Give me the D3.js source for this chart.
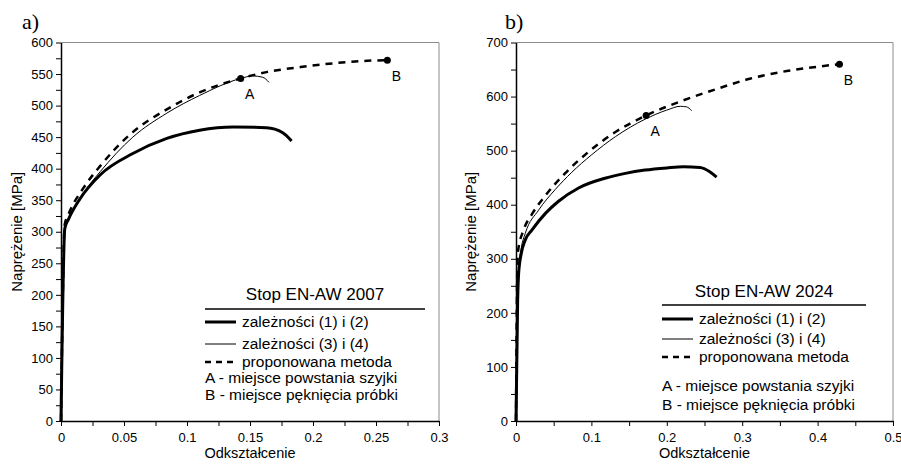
<!DOCTYPE html>
<html lang="pl">
<head>
  <meta charset="UTF-8">
  <title>Stop EN-AW 2007 / 2024</title>
  <script src="https://d3js.org/d3.v7.min.js"></script>
  <style>
    body { margin: 0; background: #fff; }
    svg { display: block; font-family: Arial, "Liberation Sans", sans-serif; }
    .tick text { font-size: 13px; fill: #000; }
    .tick line { stroke: #000; }
    .domain { stroke: #000; stroke-width: 1.5; }
  </style>
</head>
<body>
<svg id="chart" width="901" height="464"></svg>
<script>
  // ---- data: [odkształcenie, naprężenie MPa] ----
  // a) Stop EN-AW 2007
  const a_thick = [[0,0],[0.003,305],[0.006,320],[0.015,352],[0.031,390],[0.057,424],[0.084,448],[0.110,461],[0.137,466],[0.163,465],[0.176,457],[0.183,444]];
  const a_thin = [[0,0],[0.003,308],[0.006,322],[0.018,362],[0.031,395],[0.057,450],[0.084,488],[0.110,516],[0.1426,543],[0.152,547],[0.160,545],[0.165,537]];
  const a_dashed = [[0,0],[0.003,312],[0.006,328],[0.018,370],[0.031,404],[0.057,458],[0.084,494],[0.110,521],[0.1426,543],[0.163,553],[0.19,561],[0.216,567],[0.243,571],[0.259,572]];
  const a_points = [{ label: "A", x: 0.1426, y: 543 }, { label: "B", x: 0.259, y: 572 }];
  const a_xTicks = [0,0.025,0.05,0.075,0.1,0.125,0.15,0.175,0.2,0.225,0.25,0.275,0.3];
  const a_xLabels = [0,0.05,0.1,0.15,0.2,0.25,0.3];
  const a_yTicks = [0,25,50,75,100,125,150,175,200,225,250,275,300,325,350,375,400,425,450,475,500,525,550,575,600];
  const a_yLabels = [0,50,100,150,200,250,300,350,400,450,500,550,600];

  // b) Stop EN-AW 2024
  const b_thick = [[0,0],[0.0022,224],[0.0035,273],[0.007,310],[0.0123,335],[0.021,353],[0.039,384],[0.056,406],[0.083,431],[0.118,449],[0.145,458],[0.171,464],[0.200,468],[0.222,470],[0.244,469],[0.257,461],[0.266,451]];
  const b_thin = [[0,0],[0.0022,232],[0.0035,282],[0.007,320],[0.0123,347],[0.030,390],[0.052,428],[0.074,460],[0.1,492],[0.132,526],[0.171,558],[0.2,575],[0.218,582],[0.226,581],[0.233,574]];
  const b_dashed = [[0,0],[0.0015,262],[0.0026,313],[0.010,353],[0.021,382],[0.039,417],[0.065,458],[0.093,494],[0.127,530],[0.1726,565],[0.222,593],[0.266,614],[0.31,633],[0.354,646],[0.399,655],[0.429,660]];
  const b_points = [{ label: "A", x: 0.1726, y: 565 }, { label: "B", x: 0.429, y: 660 }];
  const b_xTicks = [0,0.05,0.1,0.15,0.2,0.25,0.3,0.35,0.4,0.45,0.5];
  const b_xLabels = [0,0.1,0.2,0.3,0.4,0.5];
  const b_yTicks = [0,50,100,150,200,250,300,350,400,450,500,550,600,650,700];
  const b_yLabels = [0,100,200,300,400,500,600,700];

  const legendNames = ["zależności (1) i (2)", "zależności (3) i (4)", "proponowana metoda"];
  const noteNames = ["A - miejsce powstania szyjki", "B - miejsce pęknięcia próbki"];

  const svg = d3.select("#chart");

  function drawPanel(p) {
    const x = d3.scaleLinear().domain(p.xDomain).range([p.left, p.right]);
    const y = d3.scaleLinear().domain(p.yDomain).range([p.bottom, p.top]);
    const g = svg.append("g");

    // plot frame (top / right grey)
    g.append("path")
      .attr("d", `M${p.left},${p.top}H${p.right}V${p.bottom}`)
      .attr("fill", "none").attr("stroke", "#8c8c8c").attr("stroke-width", 1);

    g.append("g")
      .attr("transform", `translate(0,${p.bottom})`)
      .call(d3.axisBottom(x).tickValues(p.xTicks).tickSize(5).tickSizeOuter(0)
        .tickFormat(d => p.xLabels.some(v => Math.abs(v - d) < 1e-9) ? String(d) : ""))
      .selectAll("text").attr("dy", "0.98em");

    g.append("g")
      .attr("transform", `translate(${p.left},0)`)
      .call(d3.axisLeft(y).tickValues(p.yTicks).tickSize(5).tickSizeOuter(0)
        .tickFormat(d => p.yLabels.includes(d) ? String(d) : ""));

    // axis titles
    g.append("text")
      .attr("x", (p.left + p.right) / 2).attr("y", p.bottom + 37)
      .attr("text-anchor", "middle").attr("font-size", 14.5)
      .text("Odkształcenie");
    g.append("text")
      .attr("transform", `translate(${p.yLabelX},${(p.top + p.bottom) / 2}) rotate(-90)`)
      .attr("text-anchor", "middle").attr("font-size", 15)
      .text("Naprężenie [MPa]");

    // panel letter
    g.append("text")
      .attr("x", p.letterX).attr("y", 29)
      .attr("font-family", "'Times New Roman', 'Liberation Serif', serif")
      .attr("font-size", 22)
      .text(p.letter);

    const line = d3.line().x(d => x(d[0])).y(d => y(d[1])).curve(d3.curveMonotoneX);

    g.append("path").datum(p.thin).attr("d", line)
      .attr("fill", "none").attr("stroke", "#000").attr("stroke-width", 1);
    g.append("path").datum(p.dashed).attr("d", line)
      .attr("fill", "none").attr("stroke", "#000").attr("stroke-width", 2.5)
      .attr("stroke-dasharray", "7,6");
    g.append("path").datum(p.thick).attr("d", line)
      .attr("fill", "none").attr("stroke", "#000").attr("stroke-width", 3);

    g.selectAll(".pt").data(p.points).enter().append("circle")
      .attr("cx", d => x(d.x)).attr("cy", d => y(d.y)).attr("r", 3.5).attr("fill", "#000");
    g.selectAll(".ptl").data(p.points).enter().append("text")
      .attr("x", d => x(d.x) + 9).attr("y", d => y(d.y) + 21)
      .attr("text-anchor", "middle").attr("font-size", 14)
      .text(d => d.label);

    // legend
    const L = p.legend;
    g.append("text")
      .attr("x", (L.x0 + L.x1) / 2).attr("y", L.titleY)
      .attr("text-anchor", "middle").attr("font-size", 17)
      .text(p.title);
    g.append("line")
      .attr("x1", L.x0).attr("x2", L.x1).attr("y1", L.ruleY).attr("y2", L.ruleY)
      .attr("stroke", "#000").attr("stroke-width", 1.3);

    const styles = [
      { w: 3, dash: null },
      { w: 1, dash: null },
      { w: 2.5, dash: "6,5" }
    ];
    legendNames.forEach((name, i) => {
      const yy = L.rows[i];
      g.append("line")
        .attr("x1", L.x0).attr("x2", L.x0 + 31).attr("y1", yy).attr("y2", yy)
        .attr("stroke", "#000").attr("stroke-width", styles[i].w)
        .attr("stroke-dasharray", styles[i].dash);
      g.append("text")
        .attr("x", L.x0 + 37).attr("y", yy).attr("dy", "0.35em")
        .attr("font-size", 15.5).text(name);
    });
    noteNames.forEach((name, i) => {
      g.append("text")
        .attr("x", L.x0).attr("y", L.notes[i]).attr("dy", "0.35em")
        .attr("font-size", 15.5).text(name);
    });
  }

  drawPanel({
    letter: "a)", letterX: 22, title: "Stop EN-AW 2007",
    left: 61, right: 439, top: 42.5, bottom: 421, yLabelX: 22,
    xDomain: [0, 0.3], yDomain: [0, 600],
    xTicks: a_xTicks, xLabels: a_xLabels, yTicks: a_yTicks, yLabels: a_yLabels,
    thick: a_thick, thin: a_thin, dashed: a_dashed, points: a_points,
    legend: { x0: 205, x1: 425, titleY: 300, ruleY: 309, rows: [322, 344, 362], notes: [378, 395] }
  });

  drawPanel({
    letter: "b)", letterX: 505, title: "Stop EN-AW 2024",
    left: 516, right: 893, top: 42.5, bottom: 421, yLabelX: 476,
    xDomain: [0, 0.5], yDomain: [0, 700],
    xTicks: b_xTicks, xLabels: b_xLabels, yTicks: b_yTicks, yLabels: b_yLabels,
    thick: b_thick, thin: b_thin, dashed: b_dashed, points: b_points,
    legend: { x0: 662, x1: 866, titleY: 297, ruleY: 305, rows: [319, 339, 357], notes: [386, 405] }
  });
</script>
</body>
</html>
